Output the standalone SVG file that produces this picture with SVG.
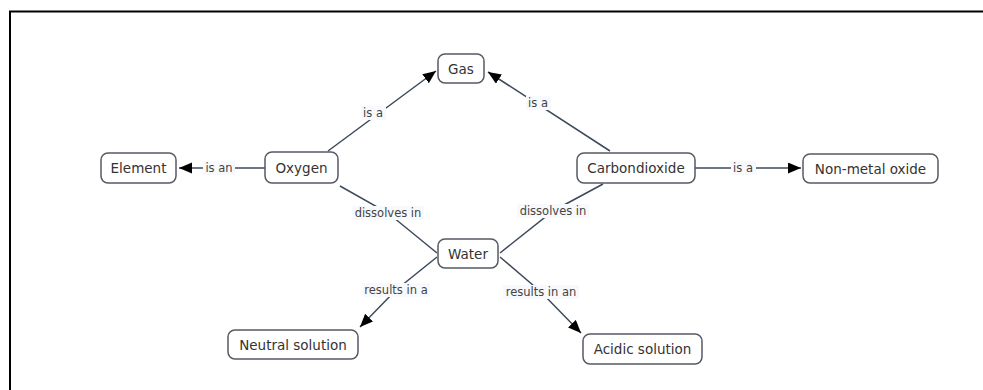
<svg xmlns="http://www.w3.org/2000/svg" width="983" height="390" viewBox="0 0 983 390">
<style>
.node rect{fill:#fff;stroke:#555b63;stroke-width:1.5}
.node text{font-family:"DejaVu Sans",Verdana,sans-serif;font-size:13.5px;fill:#333;text-anchor:middle;dominant-baseline:central}
.edge{fill:none;stroke:#3d4a5b;stroke-width:1.5}
.lbl rect{fill:#f7f9fc;stroke:none}
.lbl text{font-family:"DejaVu Sans",Verdana,sans-serif;font-size:11.5px;fill:#444;text-anchor:middle;dominant-baseline:central}
</style>
<defs>
<marker id="arr" markerUnits="userSpaceOnUse" markerWidth="14" markerHeight="12" refX="13" refY="5.5" orient="auto">
<path d="M0,0 L13,5.5 L0,11 z" fill="#000"/>
</marker>
</defs>
<rect width="983" height="390" fill="#fff"/>
<path d="M10,390 V11.5 H983" fill="none" stroke="#000" stroke-width="2"/>
<g id="connectors">
<path class="edge" d="M265,168 H179" marker-end="url(#arr)"/>
<path class="edge" d="M328,151 L436,71" marker-end="url(#arr)"/>
<path class="edge" d="M610,151 L488,72" marker-end="url(#arr)"/>
<path class="edge" d="M695,168 H801" marker-end="url(#arr)"/>
<path class="edge" d="M340,186 L388,213 L437,253"/>
<path class="edge" d="M603,184 L553,211 L500,253"/>
<path class="edge" d="M437,257 L396,290 L360,327" marker-end="url(#arr)"/>
<path class="edge" d="M500,257 L541,292 L581,333" marker-end="url(#arr)"/>
<g class="lbl"><rect x="203" y="161" width="32" height="14"/><text x="219" y="168">is an</text></g>
<g class="lbl"><rect x="361" y="106" width="25" height="14"/><text x="373" y="113">is a</text></g>
<g class="lbl"><rect x="526" y="96" width="25" height="14"/><text x="538" y="103">is a</text></g>
<g class="lbl"><rect x="731" y="161" width="25" height="14"/><text x="743" y="168">is a</text></g>
<g class="lbl"><rect x="352" y="206" width="72" height="14"/><text x="388" y="213">dissolves in</text></g>
<g class="lbl"><rect x="517" y="204" width="72" height="14"/><text x="553" y="211">dissolves in</text></g>
<g class="lbl"><rect x="362" y="283" width="68" height="14"/><text x="396" y="290">results in a</text></g>
<g class="lbl"><rect x="503" y="285" width="76" height="14"/><text x="541" y="292">results in an</text></g>
</g>
<g id="gas" class="node"><rect x="438" y="54" width="46" height="29" rx="7"/><text x="461" y="68.5">Gas</text></g>
<g id="element" class="node"><rect x="101" y="153" width="75" height="30" rx="7"/><text x="138.5" y="168">Element</text></g>
<g id="oxygen" class="node"><rect x="265" y="152" width="73" height="31" rx="7"/><text x="301.5" y="167.5">Oxygen</text></g>
<g id="carbondioxide" class="node"><rect x="577" y="153" width="118" height="30" rx="7"/><text x="636" y="168">Carbondioxide</text></g>
<g id="nonmetal" class="node"><rect x="803" y="154" width="135" height="29" rx="7"/><text x="870.5" y="168.5">Non-metal oxide</text></g>
<g id="water" class="node"><rect x="438" y="239" width="60" height="29" rx="7"/><text x="468" y="253.5">Water</text></g>
<g id="neutral" class="node"><rect x="228" y="330" width="130" height="29" rx="7"/><text x="293" y="344.5">Neutral solution</text></g>
<g id="acidic" class="node"><rect x="583" y="334" width="119" height="30" rx="7"/><text x="642.5" y="349">Acidic solution</text></g>
</svg>
